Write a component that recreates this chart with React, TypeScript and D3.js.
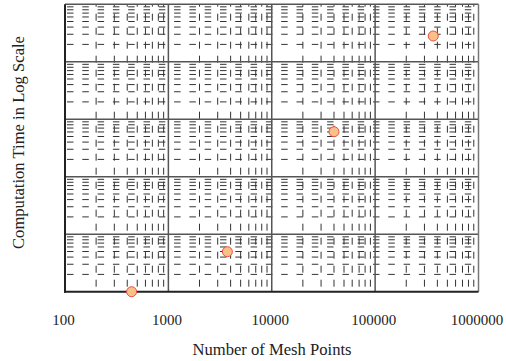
import React from "react";
import * as d3 from "d3";

const meshPoints = [441, 3721, 40000, 365000];
const compTime = [1, 4.96, 606, 28000];
const xTickLabels = ["100", "1000", "10000", "100000", "1000000"];
const xDecades = [100, 1000, 10000, 100000, 1000000];
const yDecades = [1, 10, 100, 1000, 10000, 100000];
const minorMult = [2, 3, 4, 5, 6, 7, 8, 9];

const W = 506;
const H = 361;
const L = 65, R = 478.5, T = 4.2, B = 291.7;

export default function App() {
  const x = d3.scaleLog().domain([100, 1e6]).range([L, R]);
  const y = d3.scaleLog().domain([1, 1e5]).range([B, T]);

  const xMinor: number[] = [];
  xDecades.slice(0, -1).forEach((d) => minorMult.forEach((m) => xMinor.push(d * m)));
  const yMinor: number[] = [];
  yDecades.slice(0, -1).forEach((d) => minorMult.forEach((m) => yMinor.push(d * m)));

  const font = "'Liberation Serif', 'Times New Roman', serif";

  return (
    <svg width={W} height={H} style={{ position: "absolute", left: 0, top: 0, background: "#fff" }}>
      {/* minor horizontal */}
      {yMinor.map((v, i) => (
        <line key={"hy" + i} x1={L} x2={R} y1={y(v)} y2={y(v)} stroke="#333" strokeWidth={1}
          strokeDasharray="6.5,8.8" strokeDashoffset={13.3} />
      ))}
      {/* minor vertical */}
      {xMinor.map((v, i) => (
        <line key={"vx" + i} x1={x(v)} x2={x(v)} y1={B} y2={T} stroke="#333" strokeWidth={1}
          strokeDasharray="7,7" strokeDashoffset={9} />
      ))}
      {/* major grid */}
      {yDecades.slice(1, -1).map((v, i) => (
        <line key={"my" + i} x1={L} x2={R} y1={y(v)} y2={y(v)} stroke="#555" strokeWidth={1.5} />
      ))}
      {xDecades.slice(1, -1).map((v, i) => (
        <line key={"mx" + i} x1={x(v)} x2={x(v)} y1={T} y2={B} stroke="#555" strokeWidth={1.5} />
      ))}
      {/* frame */}
      <line x1={L} x2={R} y1={T} y2={T} stroke="#555" strokeWidth={1.5} />
      <line x1={R} x2={R} y1={T} y2={B} stroke="#777" strokeWidth={1.5} />
      <line x1={L} x2={L} y1={T} y2={B + 1} stroke="#222" strokeWidth={2} />
      <line x1={L - 1} x2={R} y1={B} y2={B} stroke="#222" strokeWidth={2} />
      {/* points */}
      {meshPoints.map((m, i) => (
        <circle key={"p" + i} cx={x(m)} cy={y(compTime[i])} r={5} fill="#f9c08c" stroke="#e8503a" strokeWidth={1} />
      ))}
      {/* x tick labels */}
      {xDecades.map((v, i) => (
        <text key={"xl" + i} x={x(v) - 1.5} y={325} textAnchor="middle" fontFamily={font} fontSize={15} fill="#222">
          {xTickLabels[i]}
        </text>
      ))}
      <text x={272} y={355} textAnchor="middle" fontFamily={font} fontSize={16.6} fill="#222">
        Number of Mesh Points
      </text>
      <text transform="translate(23.5,142.5) rotate(-90)" textAnchor="middle" fontFamily={font} fontSize={16.6} fill="#222">
        Computation Time in Log Scale
      </text>
    </svg>
  );
}
